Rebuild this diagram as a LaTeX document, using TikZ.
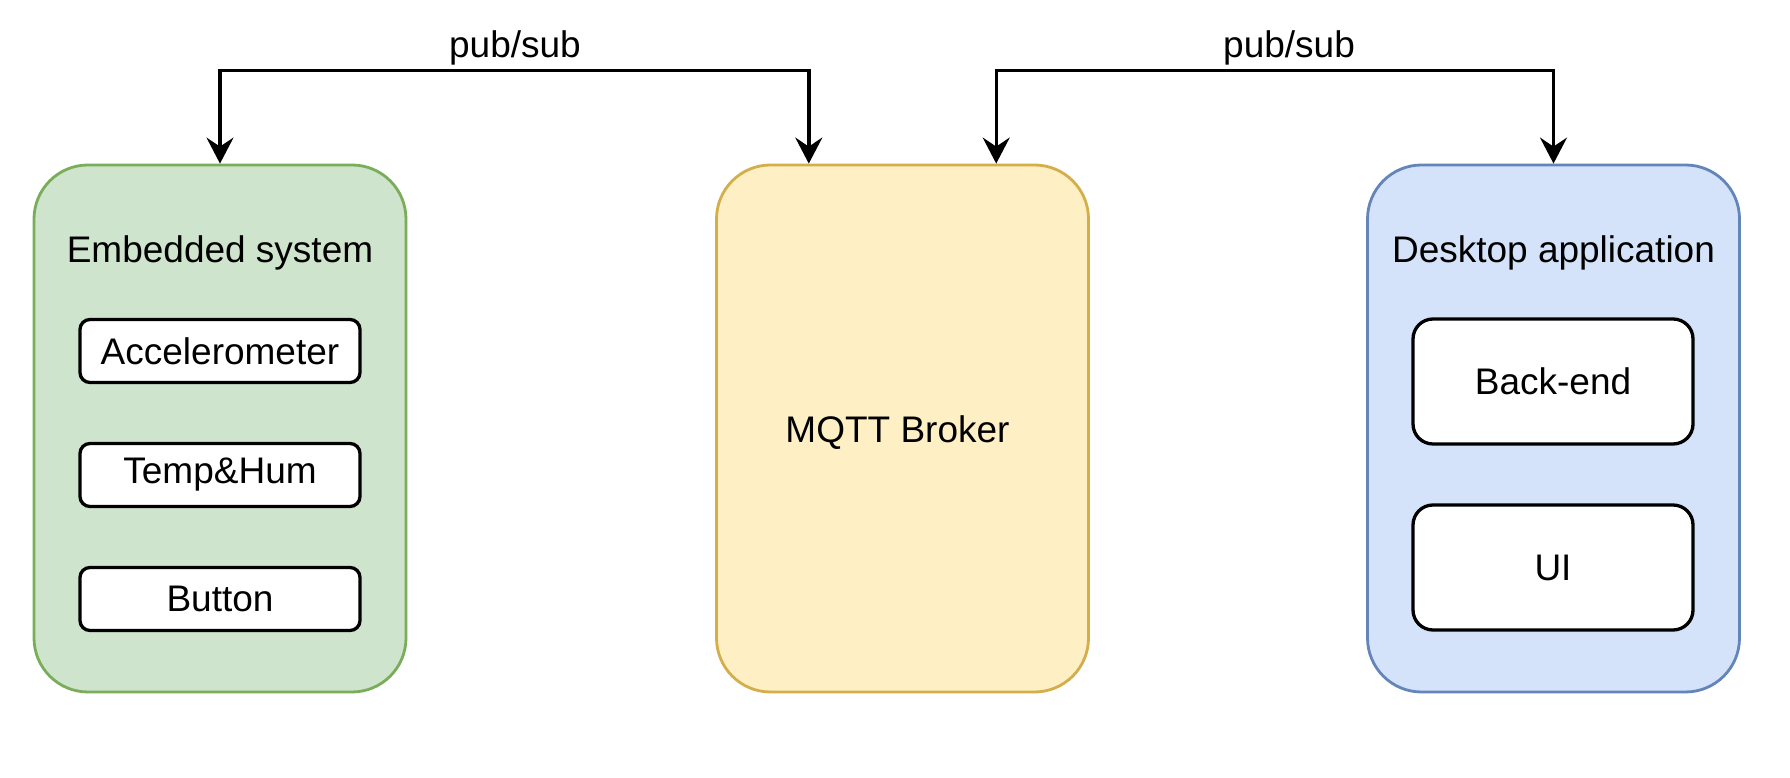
\documentclass[tikz,border=0pt]{standalone}
\usepackage{fontspec}
\setmainfont{Liberation Sans}
\usetikzlibrary{arrows.meta,calc}
\definecolor{gfill}{HTML}{CFE4CC}\definecolor{gline}{HTML}{79AD5A}
\definecolor{yfill}{HTML}{FEF0C4}\definecolor{yline}{HTML}{D3AE4A}
\definecolor{bfill}{HTML}{D4E3FA}\definecolor{bline}{HTML}{6385BA}
\begin{document}
\begin{tikzpicture}[x=1pt,y=1pt,
  outer/.style={draw, line width=2.8pt, rounded corners=54pt, minimum width=372pt, minimum height=527pt, inner sep=0pt},
  inner/.style={draw=black, fill=white, line width=3.3pt, minimum width=280pt, inner sep=0pt, font=\fontsize{37}{44}\selectfont},
  txt/.style={inner sep=0pt, font=\fontsize{37}{44}\selectfont},
  conn/.style={line width=3.4pt, {Stealth[length=26pt,width=27pt,inset=9pt]}-{Stealth[length=26pt,width=27pt,inset=9pt]}}]
\useasboundingbox (0,0) rectangle (1790,778);
\fill[white] (0,0) rectangle (1790,778);
% containers
\node[outer, fill=gfill, draw=gline] (emb) at (220,349.5) {};
\node[outer, fill=yfill, draw=yline] (brk) at (902.5,349.5) {};
\node[outer, fill=bfill, draw=bline] (app) at (1553.5,349.5) {};
% titles
\node[txt, anchor=base] (embt) at (220,515) {Embedded system};
\node[txt, anchor=base] (appt) at (1553.5,515) {Desktop application};
\node[txt, anchor=base] (mqtt) at (897.5,335) {MQTT Broker};
% inner boxes
\node[inner, rounded corners=10pt, minimum height=63pt] (acc) at (220,427) {Accelerometer};
\node[inner, rounded corners=10pt, minimum height=63pt] (th) at (220,303) {Temp\&Hum};
\node[inner, rounded corners=10pt, minimum height=63pt] (btn) at (220,179) {Button};
\node[inner, rounded corners=20pt, minimum height=125pt] (be) at (1553,396.5) {Back-end};
\node[inner, rounded corners=20pt, minimum height=125pt] (ui) at (1553,210.5) {UI};
% anchor points on the broker top
\coordinate (bq1) at ($(brk.north west)!0.25!(brk.north east)$);
\coordinate (bq3) at ($(brk.north west)!0.75!(brk.north east)$);
\coordinate (h1) at ($(emb.north)+(0,93)$);
\coordinate (h2) at ($(bq3)+(0,93)$);
% connectors
\draw[conn] (emb.north) -- (h1) -| (bq1);
\draw[conn] (bq3) -- (h2) -| (app.north);
% labels
\node[txt, anchor=base] (l1) at (515,720) {pub/sub};
\node[txt, anchor=base] (l2) at (1289,720) {pub/sub};
\end{tikzpicture}
\end{document}
